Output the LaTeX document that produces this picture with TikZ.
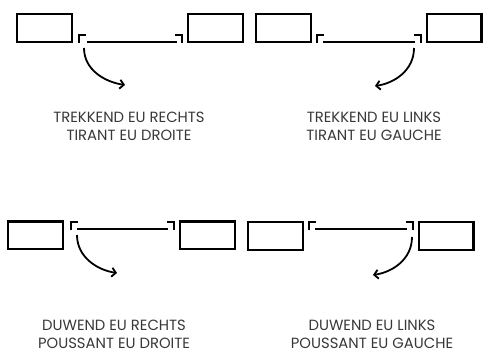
\documentclass[tikz,border=0pt]{standalone}
\usepackage{fontspec}
\setmainfont{Poppins}
\usetikzlibrary{arrows.meta}
\begin{document}
\begin{tikzpicture}[x=1pt,y=-1pt,
  box/.style={draw,line width=2.4pt,minimum width=54.6pt,minimum height=27.6pt,inner sep=0pt},
  hook/.style={line width=2.3pt},
  rail/.style={line width=2.3pt},
  turn/.style={-{Straight Barb[length=4pt,width=9pt]},line width=1.8pt},
  caption/.style={align=center,font=\fontsize{14.8}{18}\selectfont,text=black!78}]
  \useasboundingbox (0,0) rectangle (484,352);
  % trekkend eu rechts
  \node[box] (tlA) at (44.5,28) {};
  \node[box] (tlB) at (215.5,28) {};
  \coordinate (tlL) at (79,35);
  \coordinate (tlR) at (182,35);
  \draw[hook] ([xshift=7pt]tlL) -- (tlL) -- ([yshift=-8pt]tlL);
  \draw[hook] ([xshift=-7pt]tlR) -- (tlR) -- ([yshift=-8pt]tlR);
  \draw[rail] ([shift={(8,7)}]tlL) -- ([shift={(-5,7)}]tlR);
  \coordinate (tlS) at (84,48);
  \coordinate (tlE) at (125,85);
  \draw[turn] (tlS) .. controls +(0,22) and +(-20,-3) .. (tlE);
  \node[caption] (tlT) at (129,126) {TREKKEND EU RECHTS\\TIRANT EU DROITE};
  % trekkend eu links
  \node[box] (trA) at (283.5,28) {};
  \node[box] (trB) at (454,28) {};
  \coordinate (trL) at (317,35);
  \coordinate (trR) at (421,35);
  \draw[hook] ([xshift=7pt]trL) -- (trL) -- ([yshift=-8pt]trL);
  \draw[hook] ([xshift=-7pt]trR) -- (trR) -- ([yshift=-8pt]trR);
  \draw[rail] ([shift={(6,7)}]trL) -- ([shift={(-6,7)}]trR);
  \coordinate (trS) at (414,48);
  \coordinate (trE) at (375,86);
  \draw[turn] (trS) .. controls +(0,22) and +(20,-3) .. (trE);
  \node[caption] (trT) at (374,126) {TREKKEND EU LINKS\\TIRANT EU GAUCHE};
  % duwend eu rechts
  \node[box] (blA) at (35.5,235.5) {};
  \node[box] (blB) at (207.5,235.5) {};
  \coordinate (blL) at (71,222);
  \coordinate (blR) at (174,222);
  \draw[hook] ([xshift=7pt]blL) -- (blL) -- ([yshift=-8pt]blL);
  \draw[hook] ([xshift=-7pt]blR) -- (blR) -- ([yshift=-8pt]blR);
  \draw[rail] ([shift={(6,7)}]blL) -- ([shift={(-6,7)}]blR);
  \coordinate (blS) at (77,235);
  \coordinate (blE) at (117,273);
  \draw[turn] (blS) .. controls +(0,22) and +(-20,-3) .. (blE);
  \node[caption] (blT) at (114,334) {DUWEND EU RECHTS\\POUSSANT EU DROITE};
  % duwend eu links
  \node[box] (brA) at (275.5,236) {};
  \node[box] (brB) at (446,236) {};
  \coordinate (brL) at (309,222);
  \coordinate (brR) at (413,222);
  \draw[hook] ([xshift=7pt]brL) -- (brL) -- ([yshift=-8pt]brL);
  \draw[hook] ([xshift=-7pt]brR) -- (brR) -- ([yshift=-8pt]brR);
  \draw[rail] ([shift={(6,7)}]brL) -- ([shift={(-6,7)}]brR);
  \coordinate (brS) at (412,237);
  \coordinate (brE) at (373,275);
  \draw[turn] (brS) .. controls +(0,22) and +(20,-3) .. (brE);
  \node[caption] (brT) at (372,334) {DUWEND EU LINKS\\POUSSANT EU GAUCHE};
\end{tikzpicture}
\end{document}
